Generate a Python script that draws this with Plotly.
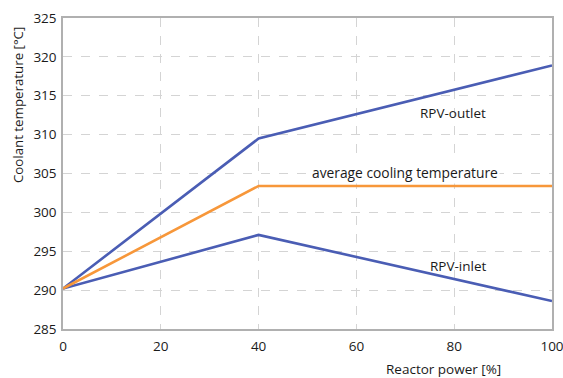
import plotly.graph_objects as go

power = [0, 40, 100]
rpv_outlet = [290.2, 309.5, 318.9]
avg_cooling = [290.2, 303.4, 303.4]
rpv_inlet = [290.2, 297.1, 288.6]

x_ticks = [0, 20, 40, 60, 80, 100]
y_ticks = [285, 290, 295, 300, 305, 310, 315, 320, 325]

BLUE = "#4a5db4"
ORANGE = "#f7973a"
FONT = "Open Sans"
TXT = "#1a1a1a"

fig = go.Figure()
fig.add_trace(go.Scatter(x=power, y=rpv_inlet, mode="lines", line=dict(color=BLUE, width=2.6)))
fig.add_trace(go.Scatter(x=power, y=rpv_outlet, mode="lines", line=dict(color=BLUE, width=2.6)))
fig.add_trace(go.Scatter(x=power, y=avg_cooling, mode="lines", line=dict(color=ORANGE, width=2.6)))

fig.add_annotation(x=79.8, y=312.8, text="RPV-outlet", showarrow=False,
                   font=dict(family=FONT, size=13.5, color=TXT))
fig.add_annotation(x=69.9, y=305.1, text="average cooling temperature", showarrow=False,
                   bgcolor="white", borderpad=1, font=dict(family=FONT, size=13.8, color=TXT))
fig.add_annotation(x=80.8, y=293.1, text="RPV-inlet", showarrow=False,
                   font=dict(family=FONT, size=13.5, color=TXT))
fig.add_annotation(xref="paper", yref="paper", x=0.779, y=-0.129, xanchor="center", yanchor="middle",
                   text="Reactor power [%]", showarrow=False,
                   font=dict(family=FONT, size=13.5, color=TXT))
fig.add_annotation(xref="paper", yref="paper", x=-0.092, y=0.72, xanchor="center", yanchor="middle",
                   text="Coolant temperature [°C]", textangle=-90, showarrow=False,
                   font=dict(family=FONT, size=13.3, color=TXT))

fig.update_layout(
    width=563, height=378,
    margin=dict(l=63, r=11, t=18, b=49),
    paper_bgcolor="white", plot_bgcolor="white",
    showlegend=False,
    font=dict(family=FONT, size=13.5, color=TXT),
    xaxis=dict(range=[0, 100], tickvals=x_ticks, showgrid=True, gridcolor="#d4d4d4",
               griddash="dash", gridwidth=1, showline=True, linecolor="#b0b0b0", linewidth=1.5,
               mirror=True, zeroline=False, ticks="", automargin=False, ticklabelstandoff=4,
               ticklabeloverflow="allow"),
    yaxis=dict(range=[285, 325], tickvals=y_ticks, showgrid=True, gridcolor="#d4d4d4",
               griddash="dash", gridwidth=1, showline=True, linecolor="#b0b0b0", linewidth=1.5,
               mirror=True, zeroline=False, ticks="", automargin=False, ticklabelstandoff=2,
               ticklabeloverflow="allow"),
)

fig.write_html("out.html")
